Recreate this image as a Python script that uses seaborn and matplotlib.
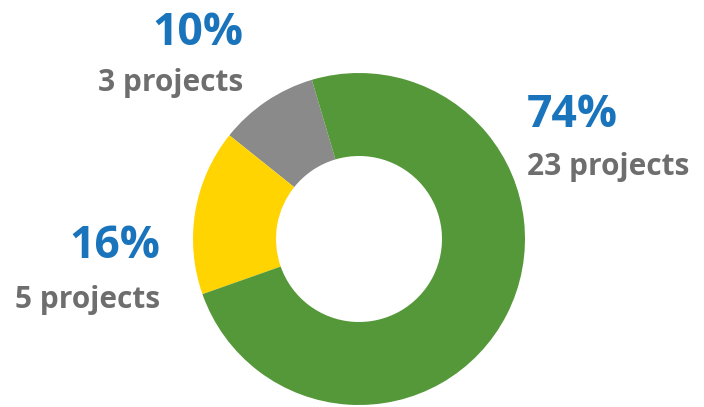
import matplotlib
matplotlib.use("Agg")
import matplotlib.pyplot as plt
import seaborn as sns

categories = ["Gray", "Yellow", "Green"]
projects = [3, 5, 23]
pct_labels = ["10%", "16%", "74%"]
count_labels = ["3 projects", "5 projects", "23 projects"]
colors = ["#8A8A8A", "#FFD400", "#55983A"]

sns.set_theme(style="white")
plt.rcParams['font.family'] = ['Open Sans', 'DejaVu Sans']

W, H = 704, 407
fig = plt.figure(figsize=(W / 100, H / 100), dpi=100)
ax = fig.add_axes([0, 0, 1, 1])

cx, cy, r = 359, H - 239, 166
ax.pie(projects, colors=colors, startangle=106.5, counterclock=True,
       center=(cx, cy), radius=r,
       wedgeprops=dict(width=r * 0.5, linewidth=0))
ax.set_xlim(0, W)
ax.set_ylim(0, H)
ax.set_aspect('equal')
ax.axis('off')

blue = "#1A74BC"
grey = "#6E6E6E"
# label positions (pixel coords, top-left origin): x, pct baseline, count baseline, align
pos = [(243, 45, 91, 'right'), (160, 258, 308, 'right'), (527, 127, 175, 'left')]
for (x, yp, yc, ha), p, c in zip(pos, pct_labels, count_labels):
    ax.text(x, H - yp, p, ha=ha, va='baseline', fontsize=32,
            fontweight='bold', color=blue)
    ax.text(x, H - yc, c, ha=ha, va='baseline', fontsize=21.5,
            fontweight='bold', color=grey)

fig.savefig("out.png", dpi=100)
